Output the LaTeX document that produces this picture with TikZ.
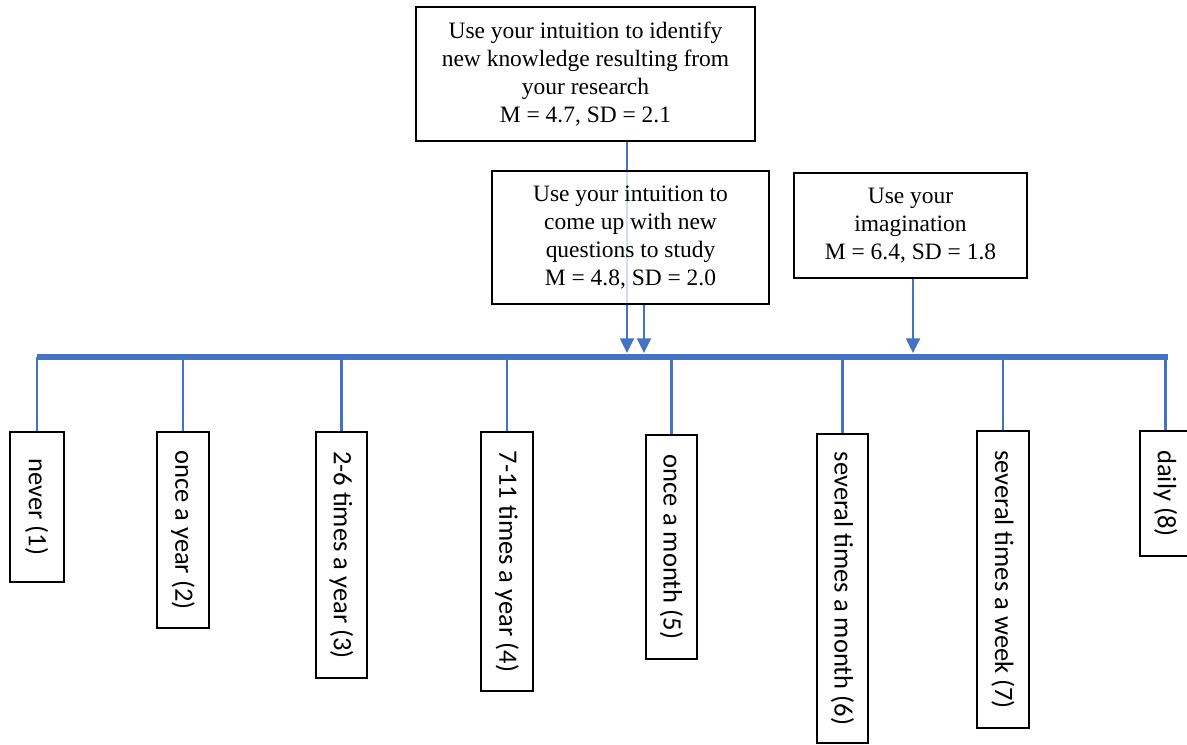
\documentclass[tikz,border=0pt]{standalone}
\usepackage{fontspec}
\setmainfont{Liberation Serif}
\newfontfamily\lblfont{Carlito}
\usetikzlibrary{arrows.meta}
\definecolor{obl}{HTML}{4472C4}
\begin{document}
\begin{tikzpicture}[x=0.75pt,y=-0.75pt,
 topbox/.style={draw=black,line width=1.3pt,fill=white,align=center,inner sep=0pt,font=\fontsize{17.6}{21}\selectfont},
 freqbox/.style={draw=black,line width=1.3pt,fill=white,rotate=-90,inner sep=0pt,font=\lblfont\fontsize{19.9}{22}\selectfont},
 conn/.style={draw=obl,line width=1.7pt,-{Triangle[width=10.5pt,length=11pt]}},
 drop/.style={draw=obl,line width=1.7pt},
 barline/.style={draw=obl,line width=5pt}]
\useasboundingbox (0,0) rectangle (1187,744);
% top boxes
\node[topbox,minimum width=339*0.75pt,minimum height=134*0.75pt] (top) at (585.5,74)
 {Use your intuition to identify\\new knowledge resulting from\\your research\\M = 4.7, SD = 2.1};
\coordinate (t1) at (627,353);
\coordinate (t2) at (644,353);
\coordinate (t3) at (913,353);
\draw[conn] (top.south -| t1) -- (t1);
\node[topbox,fill opacity=0.75,text opacity=1,minimum width=277*0.75pt,minimum height=133*0.75pt] (mid) at (630.5,237.5)
 {Use your intuition to\\come up with new\\questions to study\\M = 4.8, SD = 2.0};
\node[topbox,minimum width=233*0.75pt,minimum height=105*0.75pt] (img) at (910.5,225.5)
 {Use your\\imagination\\M = 6.4, SD = 1.8};
\draw[conn] (mid.south -| t2) -- (t2);
\draw[conn] (img.south -| t3) -- (t3);
% bar
\coordinate (bl) at (37,357);
\coordinate (br) at (1168,357);
\draw[barline] (bl) -- (br);
% frequency boxes
\node[freqbox,minimum width=150*0.75pt,minimum height=54*0.75pt] (f1) at (36.8,507) {never (1)};
\node[freqbox,minimum width=196*0.75pt,minimum height=51.6*0.75pt] (f2) at (183,530) {once a year (2)};
\node[freqbox,minimum width=246*0.75pt,minimum height=51*0.75pt] (f3) at (341.5,555) {2-6 times a year (3)};
\node[freqbox,minimum width=259*0.75pt,minimum height=52*0.75pt] (f4) at (507,561.5) {7-11 times a year (4)};
\node[freqbox,minimum width=224*0.75pt,minimum height=51*0.75pt] (f5) at (671.5,547) {once a month (5)};
\node[freqbox,minimum width=309*0.75pt,minimum height=51*0.75pt] (f6) at (842.5,588.5) {several times a month (6)};
\node[freqbox,minimum width=297*0.75pt,minimum height=52*0.75pt] (f7) at (1003,579.5) {several times a week (7)};
\node[freqbox,minimum width=125*0.75pt,minimum height=51*0.75pt] (f8) at (1165.5,493.5) {daily (8)};
\foreach \i in {1,...,8} {
  \draw[drop] (f\i.west) -- (f\i.west |- bl);
}
\end{tikzpicture}
\end{document}
